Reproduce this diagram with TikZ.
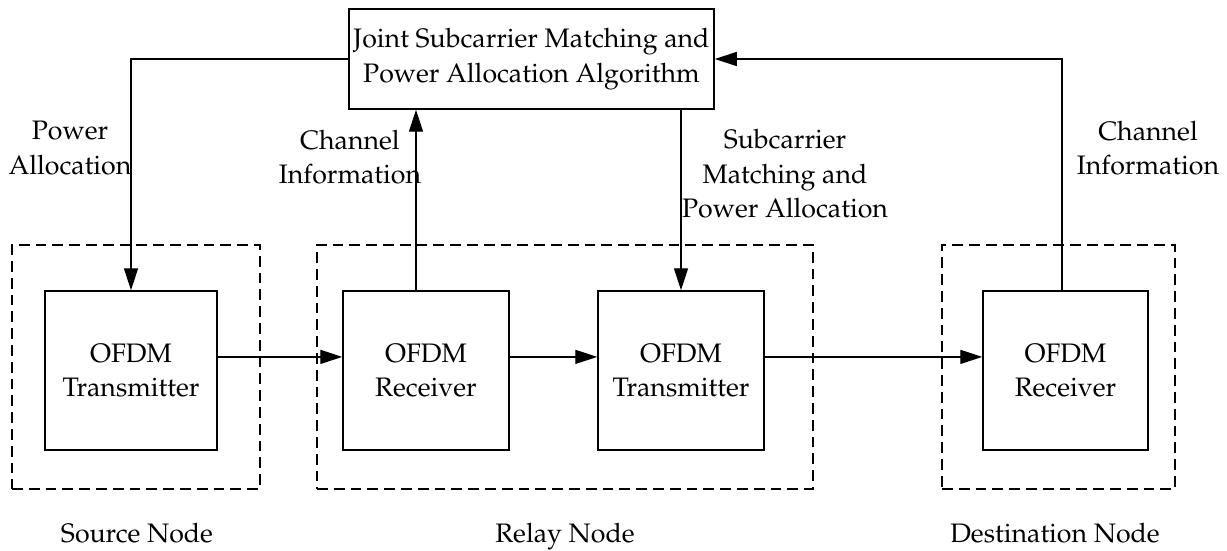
\documentclass[tikz,border=0pt]{standalone}
\usepackage[T1]{fontenc}
\renewcommand{\rmdefault}{ppl}
\usepackage{tikz}
\usetikzlibrary{arrows.meta}

\begin{document}
\begin{tikzpicture}[x=0.025cm,y=-0.025cm,
        font=\fontsize{19}{24.5}\selectfont,
        blk/.style={draw,line width=1pt,minimum height=3.975cm,align=center,inner sep=0pt},
        grp/.style={draw,line width=1pt,dash pattern=on 0.27cm off 0.15cm,minimum height=6.1cm},
        arr/.style={line width=1pt,-{Triangle[length=0.55cm,width=0.35cm]}},
        lbl/.style={align=center}]
        \useasboundingbox (0,0) rectangle (1227,551);
        \node[grp,minimum width=6.2cm] (S) at (136,367) {};
        \node[grp,minimum width=12.4cm] (R) at (565,367) {};
        \node[grp,minimum width=5.825cm] (D) at (1058.5,367) {};
        \node[blk,minimum width=4.3cm] (Tx0) at (131,370.5) {OFDM\\Transmitter};
        \node[blk,minimum width=4.15cm] (Rx1) at (426,370.5) {OFDM\\Receiver};
        \node[blk,minimum width=4.15cm] (Tx1) at (681,370.5) {OFDM\\Transmitter};
        \node[blk,minimum width=4.125cm] (Rx2) at (1065.5,370.5) {OFDM\\Receiver};
        \node[blk,minimum width=9.125cm,minimum height=2.5cm] (Alg) at (531.5,59)
            {Joint Subcarrier Matching and\\Power Allocation Algorithm};
        \draw[arr] (Alg.west) -| (Tx0.north);
        \draw[arr] ([xshift=-0.25cm]Rx1.north) -- ([xshift=-0.25cm]Rx1.north |- Alg.south);
        \draw[arr] (Alg.south -| Tx1.north) -- (Tx1.north);
        \draw[arr] ([xshift=-0.0875cm]Rx2.north) |- (Alg.east);
        \draw[arr] ([yshift=0.34cm]Tx0.east) -- ([yshift=0.34cm]Rx1.west);
        \draw[arr] ([yshift=0.34cm]Rx1.east) -- ([yshift=0.34cm]Tx1.west);
        \draw[arr] ([yshift=0.34cm]Tx1.east) -- ([yshift=0.34cm]Rx2.west);
        \node[lbl] (PA) at (70,148) {Power\\Allocation};
        \node[lbl] (CI1) at (350,157) {Channel\\Information};
        \node[lbl] (SMPA) at (785,174) {Subcarrier\\Matching and\\Power Allocation};
        \node[lbl] (CI2) at (1148,148) {Channel\\Information};
        \node[anchor=base] (SN) at (137,542) {Source Node};
        \node[anchor=base] (RN) at (565,542) {Relay Node};
        \node[anchor=base] (DN) at (1055,542) {Destination Node};
\end{tikzpicture}
\end{document}
